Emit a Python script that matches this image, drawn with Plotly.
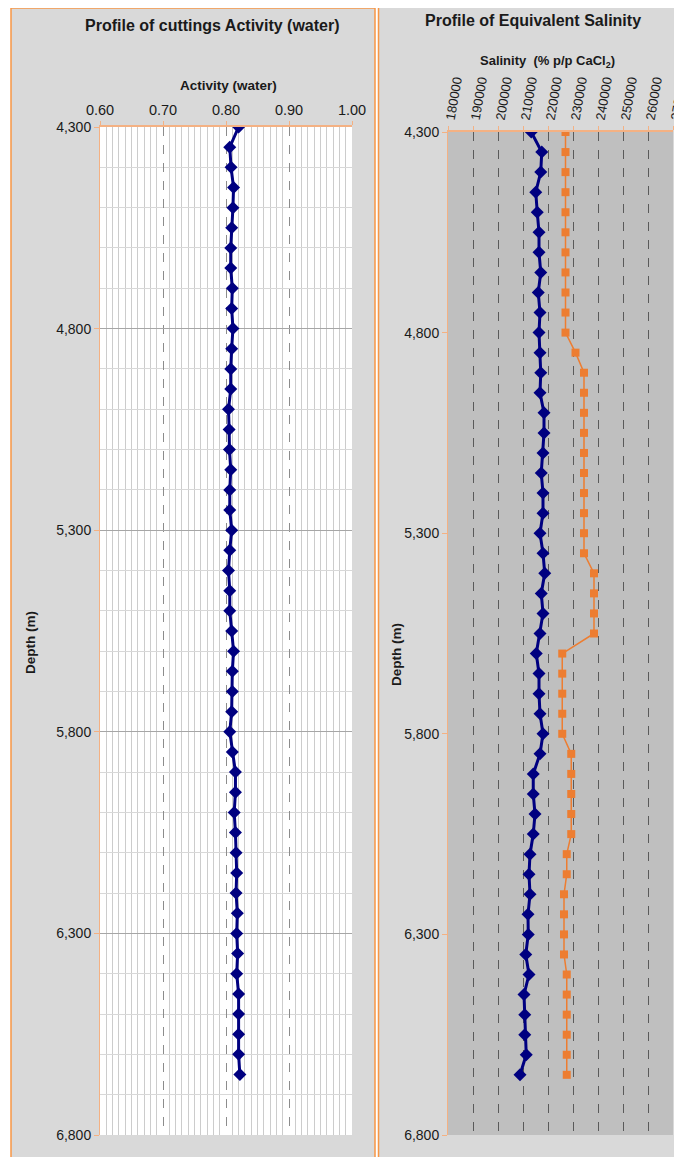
import plotly.graph_objects as go

# ---------------- data ----------------
depth_m = [4300, 4350, 4400, 4450, 4500, 4550, 4600, 4650, 4700, 4750,
           4800, 4850, 4900, 4950, 5000, 5050, 5100, 5150, 5200, 5250,
           5300, 5350, 5400, 5450, 5500, 5550, 5600, 5650, 5700, 5750,
           5800, 5850, 5900, 5950, 6000, 6050, 6100, 6150, 6200, 6250,
           6300, 6350, 6400, 6450, 6500, 6550, 6600, 6650]

activity_water = [0.820, 0.806, 0.808, 0.812, 0.811, 0.809, 0.8075, 0.8075, 0.810, 0.809,
                  0.811, 0.809, 0.8075, 0.8075, 0.804, 0.805, 0.8055, 0.8075, 0.806, 0.806,
                  0.809, 0.806, 0.804, 0.806, 0.806, 0.809, 0.812, 0.810, 0.810, 0.809,
                  0.806, 0.810, 0.815, 0.815, 0.813, 0.815, 0.816, 0.817, 0.816, 0.818,
                  0.817, 0.8185, 0.817, 0.820, 0.820, 0.820, 0.820, 0.822]

salinity_cuttings = [213300, 217500, 217100, 215100, 215700, 216400, 216400, 217100, 216100, 216800,
                     216400, 216800, 217100, 216800, 218400, 218400, 218000, 217300, 218000, 218000,
                     216800, 218000, 218700, 217300, 218000, 216800, 215300, 216400, 216400, 216800,
                     218000, 216800, 214100, 214100, 214800, 214100, 212800, 212400, 212800, 212000,
                     212100, 211100, 212400, 210400, 210700, 210700, 211300, 208800]

salinity_mud = [227000, 227000, 227000, 227000, 227000, 227000, 227000, 227000, 227000, 227000,
                227000, 231000, 234400, 234400, 234400, 234400, 234400, 234400, 234400, 234400,
                234400, 234400, 238400, 238400, 238400, 238400, 225700, 225700, 225700, 225700,
                225700, 229300, 229300, 229300, 229300, 229300, 227500, 227500, 226400, 226400,
                226400, 226400, 227500, 227500, 227500, 227500, 227500, 227500]

depth_ticks = [4300, 4800, 5300, 5800, 6300, 6800]

# ---------------- layout helpers ----------------
W, H = 682, 1157
OFF = 8  # page body margin in the browser
FONT = "Liberation Sans, Arial, sans-serif"
ORANGE_LINE = "#F79646"
AXIS_ORANGE = "#F4B183"
TXT = "#1a1a1a"


def px(x):
    return (x - OFF) / W


def py(y):
    return 1 - (y - OFF) / H


fig = go.Figure()

fig.add_trace(go.Scatter(
    x=activity_water, y=depth_m, mode="lines+markers", xaxis="x", yaxis="y",
    line=dict(color="#000080", width=3),
    marker=dict(symbol="diamond", size=10, color="#000080"),
    showlegend=False))

fig.add_trace(go.Scatter(
    x=salinity_cuttings, y=depth_m, mode="lines+markers", xaxis="x2", yaxis="y2",
    line=dict(color="#000080", width=3),
    marker=dict(symbol="diamond", size=10, color="#000080"),
    showlegend=False))

fig.add_trace(go.Scatter(
    x=salinity_mud, y=depth_m, mode="lines+markers", xaxis="x2", yaxis="y2",
    line=dict(color="#ED7D31", width=1.5),
    marker=dict(symbol="square", size=8, color="#ED7D31"),
    showlegend=False))

shapes = [
    # panels
    dict(type="rect", xref="paper", yref="paper", x0=px(11), x1=px(375), y0=py(8), y1=py(1175),
         fillcolor="#D9D9D9", line=dict(color=ORANGE_LINE, width=1.5), layer="below"),
    dict(type="rect", xref="paper", yref="paper", x0=px(378.5), x1=px(700), y0=py(7), y1=py(1175),
         fillcolor="#D9D9D9", line=dict(color=ORANGE_LINE, width=1.5), layer="below"),
    # plot areas
    dict(type="rect", xref="x", yref="y", x0=0.6, x1=1.0, y0=4300, y1=6800,
         fillcolor="white", line=dict(width=0), layer="below"),
    dict(type="rect", xref="x2", yref="y2", x0=180000, x1=270000, y0=4300, y1=6800,
         fillcolor="#BFBFBF", line=dict(width=0), layer="below"),
]

annotations = [
    dict(text="<b>Profile of cuttings Activity (water)</b>", x=px(212), y=py(26),
         font=dict(size=16, color=TXT, family=FONT)),
    dict(text="<b>Activity (water)</b>", x=px(228), y=py(86),
         font=dict(size=13.5, color=TXT, family=FONT)),
    dict(text="<b>Profile of Equivalent Salinity</b>", x=px(533), y=py(20),
         font=dict(size=16, color=TXT, family=FONT)),
    dict(text="<b>Salinity  (% p/p CaCl<sub>2</sub>)</b>", x=px(547), y=py(61),
         font=dict(size=13, color=TXT, family=FONT)),
    dict(text="<b>Depth (m)</b>", x=px(30), y=py(643), textangle=-90,
         font=dict(size=13.5, color=TXT, family=FONT)),
    dict(text="<b>Depth (m)</b>", x=px(396), y=py(655), textangle=-90,
         font=dict(size=13.5, color=TXT, family=FONT)),
]
for a in annotations:
    a.update(xref="paper", yref="paper", xanchor="center", yanchor="middle", showarrow=False)

fig.update_layout(
    width=W, height=H, autosize=False,
    margin=dict(l=0, r=0, t=0, b=0, pad=0, autoexpand=False),
    paper_bgcolor="white", plot_bgcolor="rgba(0,0,0,0)",
    font=dict(family=FONT, color=TXT),
    shapes=shapes, annotations=annotations,
    xaxis=dict(
        domain=[px(100), px(352)], anchor="y", side="top", automargin=False,
        range=[0.6, 1.0], tick0=0.6, dtick=0.1, tickformat=".2f",
        showgrid=True, gridcolor="#8c8c8c", griddash="dash", gridwidth=1,
        minor=dict(dtick=0.01, showgrid=True, gridcolor="#cccccc", gridwidth=1, griddash="solid"),
        showline=True, linecolor=AXIS_ORANGE, linewidth=1.5,
        ticks="outside", ticklen=4, tickcolor=AXIS_ORANGE,
        tickfont=dict(size=14.5, color=TXT), zeroline=False, fixedrange=True),
    yaxis=dict(
        domain=[py(1135), py(127)], anchor="x", automargin=False,
        range=[6800, 4300], tickvals=depth_ticks, tickformat=",d",
        showgrid=True, gridcolor="#a6a6a6", gridwidth=1,
        minor=dict(tick0=4300, dtick=100, showgrid=True, gridcolor="#d8d8d8", gridwidth=1, griddash="solid"),
        showline=True, linecolor=AXIS_ORANGE, linewidth=1,
        ticks="outside", ticklen=5, tickcolor=AXIS_ORANGE,
        tickfont=dict(size=14, color=TXT), zeroline=False, fixedrange=True),
    xaxis2=dict(
        domain=[px(448), px(673)], anchor="y2", side="top", automargin=False,
        range=[180000, 270000], tick0=180000, dtick=10000, tickformat="d", tickangle=-80,
        showgrid=True, gridcolor="#5a5a5a", griddash="dash", gridwidth=1,
        showline=True, linecolor=AXIS_ORANGE, linewidth=1.5,
        ticks="outside", ticklen=4, tickcolor=AXIS_ORANGE,
        ticklabeloverflow="allow", ticklabelstandoff=-5,
        tickfont=dict(size=13, color=TXT), zeroline=False, fixedrange=True),
    yaxis2=dict(
        domain=[py(1135), py(132)], anchor="x2", automargin=False,
        range=[6800, 4300], tickvals=depth_ticks, tickformat=",d",
        showgrid=False,
        showline=True, linecolor=AXIS_ORANGE, linewidth=1,
        ticks="outside", ticklen=5, tickcolor=AXIS_ORANGE,
        tickfont=dict(size=14, color=TXT), zeroline=False, fixedrange=True),
)

fig.write_html("out.html")
